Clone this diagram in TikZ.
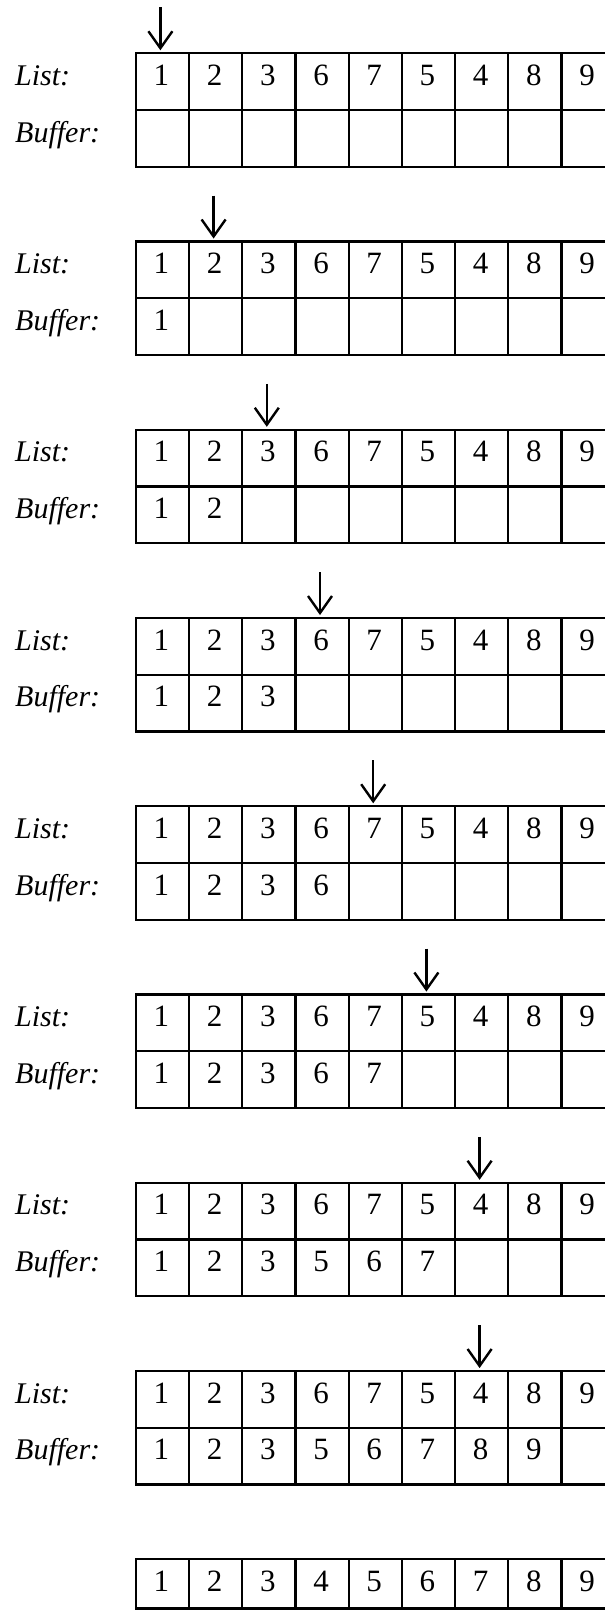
\documentclass[tikz,border=0pt]{standalone}
\usepackage{fontspec}
\setmainfont{Liberation Serif}
\usetikzlibrary{arrows.meta}
\begin{document}
\begin{tikzpicture}[x=1pt,y=-1pt,
  cell/.style={draw, line width=2.2pt, minimum width=53.2pt, minimum height=56.7pt, inner sep=0pt, outer sep=0pt},
  lastcell/.style={cell, minimum height=49.2pt},
  num/.style={anchor=base, inner sep=0pt, font=\fontsize{31}{36}\selectfont},
  lbl/.style={anchor=base west, inner sep=0pt, font=\fontsize{30}{36}\selectfont\itshape},
  ptr/.style={line width=2.4pt, -{Straight Barb[length=17pt,width=24pt,line width=2.4pt]}, shorten >=3pt}]
\useasboundingbox (0,0) rectangle (605,1610);
\clip (0,0) rectangle (605,1610);
\def\L{135.8}\def\W{53.2}\def\H{56.7}
\foreach \k/\p/\buf in {0/1/{}, 1/2/{1}, 2/3/{1,2}, 3/4/{1,2,3}, 4/5/{1,2,3,6}, 5/6/{1,2,3,6,7}, 6/7/{1,2,3,5,6,7}, 7/7/{1,2,3,5,6,7,8,9}} {
  \pgfmathsetmacro\T{53.3+188.25*\k}
  \node[lbl] (list\k) at (15,\T+32) {List:};
  \node[lbl] (buffer\k) at (15,\T+\H+32) {Buffer:};
  \foreach \v [count=\i] in {1,2,3,6,7,5,4,8,9} {
    \node[cell] (l\k-\i) at ({\L+(\i-0.5)*\W},{\T+0.5*\H}) {};
    \node[num] (ln\k-\i) at ({\L+(\i-0.5)*\W-1},{\T+32}) {\v};
    \node[cell] (b\k-\i) at ({\L+(\i-0.5)*\W},{\T+1.5*\H}) {};
  }
  \foreach \v [count=\i] in \buf {
    \node[num] (bn\k-\i) at ({\L+(\i-0.5)*\W-1},{\T+\H+32}) {\v};
  }
  \coordinate (a\k) at ({\L+(\p-0.5)*\W-2},{\T-46});
  \draw[ptr] (a\k) -- ([xshift=-2pt]l\k-\p.north);
}
\pgfmathsetmacro\T{53.3+188.25*8}
\foreach \v [count=\i] in {1,2,3,4,5,6,7,8,9} {
  \node[lastcell] (f-\i) at ({\L+(\i-0.5)*\W},{\T+24.6}) {};
  \node[num] (fn-\i) at ({\L+(\i-0.5)*\W-1},{\T+32}) {\v};
}
\end{tikzpicture}
\end{document}
